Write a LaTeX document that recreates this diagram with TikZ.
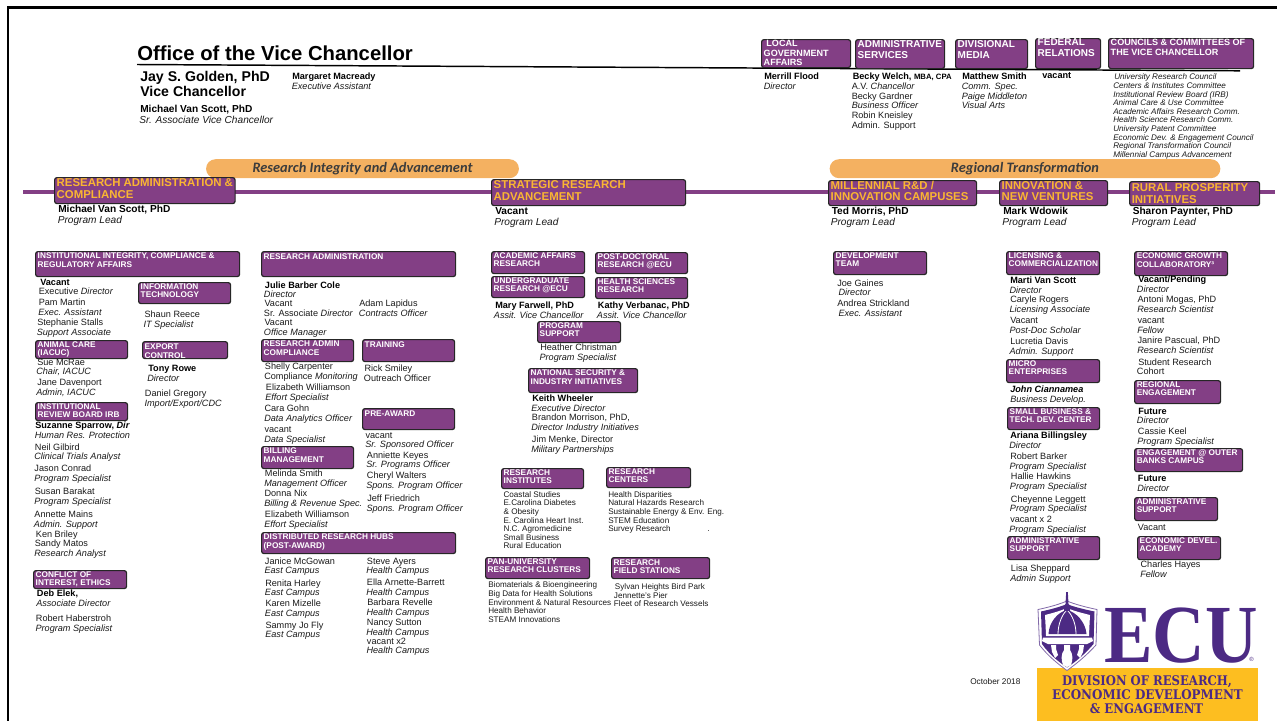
\documentclass[tikz,border=0pt]{standalone}
\usepackage{fontspec}
\setmainfont{Liberation Sans}
\newfontfamily\bannerfont{Carlito}
\newfontfamily\slabfont{DejaVu Serif}
\newfontfamily\ecufont{Liberation Serif}
\definecolor{ecupurple}{RGB}{131,63,133}
\definecolor{logopurple}{RGB}{76,42,132}
\definecolor{bannerorange}{RGB}{244,177,97}
\definecolor{goldtext}{RGB}{250,182,50}
\definecolor{logogold}{RGB}{253,190,32}
\definecolor{bannertext}{RGB}{60,60,60}
\definecolor{bodytext}{RGB}{25,25,25}
\newcounter{tn}
\tikzset{
  x=0.75pt,y=-0.75pt,
  lbl/.style={inner sep=0pt,anchor=base west,text=bodytext,font=\fontsize{6.85}{7.3}\selectfont},
  boxst/.style={draw=black!85,fill=ecupurple,line width=0.9pt,rounded corners=1.8pt,inner ysep=0pt,inner xsep=1.6pt,text=white},
  hdrsmall/.style={font=\bfseries\fontsize{6.2}{6.5}\selectfont},
  hdrtop/.style={font=\bfseries\fontsize{7.5}{8}\selectfont},
  hdrtopb/.style={font=\bfseries\fontsize{6.8}{7.2}\selectfont},
  hdrgold/.style={font=\bfseries\fontsize{8.55}{8.8}\selectfont,text=goldtext},
  bannerst/.style={fill=bannerorange,rounded corners=7pt,inner sep=0pt,text=bannertext,font=\bannerfont\bfseries\itshape\fontsize{10.8}{11}\selectfont},
}
% boxes: name x1 y1 x2 y2 style strutheight text
\newcommand\bx[8]{\pgfmathsetlengthmacro\bw{(#4-#2)*0.75pt-3.2pt}\pgfmathsetlengthmacro\bh{(#5-#3)*0.75pt}%
  \node[boxst,#6,anchor=north west,minimum width={(#4-#2)*0.75pt}] (#1) at (#2,#3) {\parbox[b][\bh][t]{\bw}{\raggedright\rule{0pt}{#7}#8}};}
\newcommand\nR[3]{\stepcounter{tn}\node[lbl] (t\thetn) at ({#1},{#2+3.6}) {#3};}
\newcommand\nI[3]{\stepcounter{tn}\node[lbl,font=\itshape\fontsize{6.85}{7.3}\selectfont] (t\thetn) at ({#1},{#2+3.6}) {#3};}
\newcommand\nB[3]{\stepcounter{tn}\node[lbl,text=black,font=\bfseries\fontsize{6.85}{7.3}\selectfont] (t\thetn) at ({#1},{#2+3.6}) {#3};}
\newcommand\nS[3]{\stepcounter{tn}\node[lbl,font=\fontsize{6.1}{7}\selectfont] (t\thetn) at ({#1},{#2+3.4}) {#3};}
\newcommand\nC[3]{\stepcounter{tn}\node[lbl,font=\itshape\fontsize{6.1}{7}\selectfont] (t\thetn) at ({#1},{#2+3.4}) {#3};}
\newcommand\nLB[3]{\stepcounter{tn}\node[lbl,text=black,font=\bfseries\fontsize{7.6}{8}\selectfont] (t\thetn) at ({#1},{#2+3.9}) {#3};}
\newcommand\nLI[3]{\stepcounter{tn}\node[lbl,font=\itshape\fontsize{7.6}{8}\selectfont] (t\thetn) at ({#1},{#2+3.9}) {#3};}
\begin{document}
\begin{tikzpicture}
\useasboundingbox (0,0) rectangle (1277,721);
% frame
\coordinate (fa) at (1277,7.5); \coordinate (fb) at (8,7.5); \coordinate (fc) at (8,721);
\draw[black,line width=1.9pt] (fa) -- (fb) -- (fc);
% main lines
\coordinate (pa) at (23,192); \coordinate (pb) at (1275,192);
\draw[ecupurple,line width=3pt] (pa) -- (pb);
\coordinate (la) at (137,64.5); \coordinate (lb) at (1240,70.8);
\draw[black,line width=1.1pt] (la) -- (lb);
% title
\node[inner sep=0pt,anchor=base west,font=\bfseries\fontsize{15.2}{16}\selectfont] (title) at (137,60) {Office of the Vice Chancellor};
\node[inner sep=0pt,anchor=base west,font=\bfseries\fontsize{10.6}{11}\selectfont] (vc1) at (140,81) {Jay S. Golden, PhD};
\node[inner sep=0pt,anchor=base west,font=\bfseries\fontsize{10.6}{11}\selectfont] (vc2) at (140,96) {Vice Chancellor};
\nLB{140}{109}{Michael Van Scott, PhD}
\nLI{139}{120}{Sr. Associate Vice Chancellor}
\nB{292}{76}{Margaret Macready}
\nI{291.5}{86}{Executive Assistant}
% top boxes
\bx{local}{761}{39}{850}{67}{hdrtopb}{5.2pt}{\hspace*{2pt}LOCAL\\GOVERNMENT\\AFFAIRS}
\bx{admin}{855}{39}{944}{68}{hdrtop}{6.0pt}{ADMINISTRATIVE SERVICES}
\bx{media}{955}{39}{1027}{68}{hdrtop}{6.0pt}{DIVISIONAL MEDIA}
\bx{federal}{1035}{38}{1100}{68}{hdrtop}{5.4pt}{FEDERAL RELATIONS}
\bx{councils}{1108}{38}{1253}{68}{hdrtopb}{5.2pt}{COUNCILS \& COMMITTEES OF THE VICE CHANCELLOR}
\nB{764}{76}{Merrill Flood}
\nI{763.5}{86}{Director}
\nB{852.5}{76}{Becky Welch, {\fontsize{5.8}{6}\selectfont MBA, CPA}}
\nR{851.5}{86}{A.V. \itshape Chancellor}
\nR{851.5}{95.5}{Becky Gardner}
\nI{851.5}{105}{Business Officer}
\nR{851.5}{115}{Robin Kneisley}
\nR{851.5}{124.5}{Admin. Support}
\nB{962}{76}{Matthew Smith}
\nI{961.5}{86}{Comm. Spec.}
\nI{961.5}{95.5}{Paige Middleton}
\nI{961.5}{105}{Visual Arts}
\nB{1042}{74.5}{vacant}
\nC{1114}{76.5}{University Research Council}
\nC{1113}{85}{Centers \& Institutes Committee}
\nC{1113}{93.7}{Institutional Review Board (IRB)}
\nC{1113}{102.3}{Animal Care \& Use Committee}
\nC{1113}{110.9}{Academic Affairs Research Comm.}
\nC{1113}{119.5}{Health Science Research Comm.}
\nC{1113}{128.1}{University Patent Committee}
\nC{1113}{136.7}{Economic Dev. \& Engagement Council}
\nC{1113}{145.3}{Regional Transformation Council}
\nC{1113}{153.9}{Millennial Campus Advancement}
% banners
\node[bannerst,minimum width=234.6pt,minimum height=14.2pt,anchor=center] (bn1) at (362.5,168.7) {Research Integrity and Advancement};
\node[bannerst,minimum width=293pt,minimum height=14.2pt,anchor=center] (bn2) at (1025,168.7) {Regional Transformation};
% section boxes
\bx{s1}{54}{177}{234.5}{203}{hdrgold}{6.9pt}{RESEARCH ADMINISTRATION \& COMPLIANCE}
\bx{s2}{491}{179}{685}{205}{hdrgold}{6.9pt}{STRATEGIC RESEARCH ADVANCEMENT}
\bx{s3}{828}{180}{976}{205}{hdrgold}{6.4pt}{MILLENNIAL R\&D / INNOVATION CAMPUSES}
\bx{s4}{999}{180}{1107}{205}{hdrgold}{6.4pt}{INNOVATION \& NEW VENTURES}
\bx{s5}{1129}{181}{1259}{205}{hdrgold}{7.4pt}{RURAL PROSPERITY INITIATIVES}
\nLB{58}{209}{Michael Van Scott, PhD}
\nLI{57.5}{219.5}{Program Lead}
\nLB{495}{211}{Vacant}
\nLI{494}{221.5}{Program Lead}
\nLB{831.5}{211}{Ted Morris, PhD}
\nLI{830.5}{221.5}{Program Lead}
\nLB{1003}{211}{Mark Wdowik}
\nLI{1002}{221.5}{Program Lead}
\nLB{1132.5}{211}{Sharon Paynter, PhD}
\nLI{1131.5}{221.5}{Program Lead}
% column 1
\bx{a1}{35}{251}{239}{276}{hdrsmall}{5.3pt}{INSTITUTIONAL INTEGRITY, COMPLIANCE \& REGULATORY AFFAIRS}
\nB{40}{281.7}{Vacant}
\nR{38.5}{291}{Executive \itshape Director}
\nR{38.5}{302}{Pam Martin}
\nI{38}{311.7}{Exec. Assistant}
\nR{37}{322}{Stephanie Stalls}
\nI{36.5}{332}{Support Associate}
\bx{a2}{35}{340}{127}{358}{hdrsmall}{4.8pt}{ANIMAL CARE\\(IACUC)}
\nR{37}{361.7}{Sue McRae}
\nI{36}{371.3}{Chair, IACUC}
\nR{37}{382}{Jane Davenport}
\nI{36}{391.7}{Admin, IACUC}
\bx{a3}{35}{402}{127}{420}{hdrsmall}{4.8pt}{INSTITUTIONAL\\REVIEW BOARD IRB}
\nB{35}{425.3}{Suzanne Sparrow, \itshape Dir}
\nI{34.5}{435}{Human Res. Protection}
\nR{34.7}{446.7}{Neil Gilbird}
\nI{34}{456.3}{Clinical Trials Analyst}
\nR{34.2}{468.3}{Jason Conrad}
\nI{34}{478}{Program Specialist}
\nR{34.5}{491.3}{Susan Barakat}
\nI{34}{501}{Program Specialist}
\nR{34.2}{514.3}{Annette Mains}
\nI{33.7}{524}{Admin. Support}
\nR{35.7}{533.7}{Ken Briley}
\nR{34.5}{543.3}{Sandy Matos}
\nI{34}{553}{Research Analyst}
\bx{a4}{33}{570}{126}{588}{hdrsmall}{4.8pt}{CONFLICT OF\\INTEREST, ETHICS}
\nB{36.7}{593.3}{Deb Elek,}
\nI{36}{603}{Associate Director}
\nR{35.7}{618.3}{Robert Haberstroh}
\nI{35.3}{628}{Program Specialist}
\bx{a5}{138}{282}{230}{303}{hdrsmall}{5.0pt}{INFORMATION\\TECHNOLOGY}
\nR{144.3}{314}{Shaun Reece}
\nI{143.3}{323.7}{IT Specialist}
\bx{a6}{142}{341}{227}{358}{hdrsmall}{6pt}{EXPORT\\CONTROL}
\nB{148}{368}{Tony Rowe}
\nI{147}{377.7}{Director}
\nR{144.7}{393}{Daniel Gregory}
\nI{144.3}{402.7}{Import/Export/CDC}
% column 2
\bx{b1}{261}{251}{455}{276}{hdrsmall}{6.2pt}{RESEARCH ADMINISTRATION}
\nB{264.7}{284.7}{Julie Barber Cole}
\nI{263.7}{294.3}{Director}
\nR{264.3}{303.3}{Vacant}
\nR{263.7}{313}{Sr. Associate \itshape Director}
\nR{264.3}{322.3}{Vacant}
\nI{263.7}{332}{Office Manager}
\nR{359}{303.3}{Adam Lapidus}
\nI{358.7}{313}{Contracts Officer}
\bx{b2}{261}{339}{353}{361}{hdrsmall}{5.3pt}{RESEARCH ADMIN\\COMPLIANCE}
\bx{b3}{362}{339}{454}{361}{hdrsmall}{6.2pt}{TRAINING}
\nR{264.7}{366}{Shelly Carpenter}
\nR{264}{375.7}{Compliance \itshape Monitoring}
\nR{265.7}{387.3}{Elizabeth Williamson}
\nI{265}{397}{Effort Specialist}
\nR{264.3}{408}{Cara Gohn}
\nI{264}{417.7}{Data Analytics Officer}
\nR{264.3}{429}{vacant}
\nI{264}{438.7}{Data Specialist}
\nR{364.3}{368}{Rick Smiley}
\nR{363.7}{377.7}{Outreach Officer}
\bx{b4}{362}{408}{454}{429}{hdrsmall}{5.6pt}{PRE-AWARD}
\nR{365.3}{434.7}{vacant}
\nI{365}{444.3}{Sr. Sponsored Officer}
\nR{366.7}{454.7}{Anniette Keyes}
\nI{366}{464.3}{Sr. Programs Officer}
\nR{366.7}{475}{Cheryl Walters}
\nI{366}{484.7}{Spons. Program Officer}
\nR{367}{498}{Jeff Friedrich}
\nI{366.3}{507.7}{Spons. Program Officer}
\bx{b5}{261}{446}{353}{468}{hdrsmall}{5.2pt}{BILLING\\MANAGEMENT}
\nR{264.7}{473.3}{Melinda Smith}
\nI{264}{483}{Management Officer}
\nR{264.3}{493.3}{Donna Nix}
\nI{264}{503}{Billing \& Revenue Spec.}
\nR{264.7}{514.3}{Elizabeth Williamson}
\nI{264}{524}{Effort Specialist}
\bx{b6}{261}{532}{455}{553}{hdrsmall}{5.2pt}{DISTRIBUTED RESEARCH HUBS\\(POST-AWARD)}
\nR{264.7}{560.7}{Janice McGowan}
\nI{264.3}{570.3}{East Campus}
\nR{265}{582.7}{Renita Harley}
\nI{264.7}{592.3}{East Campus}
\nR{265.3}{603}{Karen Mizelle}
\nI{264.7}{612.7}{East Campus}
\nR{265.3}{624.7}{Sammy Jo Fly}
\nI{265}{634.3}{East Campus}
\nR{366.7}{560.7}{Steve Ayers}
\nI{366}{570.3}{Health Campus}
\nR{366.7}{582}{Ella Arnette-Barrett}
\nI{366}{591.7}{Health Campus}
\nR{367}{602.3}{Barbara Revelle}
\nI{366.3}{612}{Health Campus}
\nR{366.7}{622}{Nancy Sutton}
\nI{366}{631.7}{Health Campus}
\nR{366.7}{640.7}{vacant x2}
\nI{366.3}{650.3}{Health Campus}
% column 3
\bx{c1}{491}{251}{584}{273}{hdrsmall}{4.8pt}{ACADEMIC AFFAIRS\\RESEARCH}
\bx{c2}{595}{252}{687}{273}{hdrsmall}{4.8pt}{POST-DOCTORAL\\RESEARCH @ECU}
\bx{c3}{491}{276}{584}{297}{hdrsmall}{4.8pt}{UNDERGRADUATE\\RESEARCH @ECU}
\bx{c4}{595}{277}{687}{298}{hdrsmall}{4.8pt}{HEALTH SCIENCES\\RESEARCH}
\nB{495}{305}{Mary Farwell, PhD}
\nI{493.7}{314.7}{Assit. Vice Chancellor}
\nB{597.7}{305}{Kathy Verbanac, PhD}
\nI{596.7}{314.7}{Assit. Vice Chancellor}
\bx{c5}{537}{321}{620}{342}{hdrsmall}{4.8pt}{PROGRAM\\SUPPORT}
\nR{540}{347}{Heather Christman}
\nI{539.3}{356.7}{Program Specialist}
\bx{c6}{528}{368}{637}{392}{hdrsmall}{5.3pt}{NATIONAL SECURITY \&\\INDUSTRY INITIATIVES}
\nB{532}{398.3}{Keith Wheeler}
\nI{531}{408}{Executive Director}
\nR{531.7}{417.3}{Brandon Morrison, PhD,}
\nI{531}{427}{Director Industry Initiatives}
\nR{531.7}{439}{Jim Menke, Director}
\nI{531}{448.7}{Military Partnerships}
\bx{c7}{501}{468}{583}{488}{hdrsmall}{5pt}{RESEARCH\\INSTITUTES}
\bx{c8}{606}{467}{690}{487}{hdrsmall}{5pt}{RESEARCH\\CENTERS}
\nS{503.3}{493.7}{Coastal Studies}
\nS{503.3}{502.3}{E.Carolina Diabetes}
\nS{503.3}{511}{\& Obesity}
\nS{503.3}{519.7}{E. Carolina Heart Inst.}
\nS{503.3}{528.3}{N.C. Agromedicine}
\nS{503.3}{537}{Small Business}
\nS{503.3}{545.3}{Rural Education}
\nS{608}{493.7}{Health Disparities}
\nS{608}{502.3}{Natural Hazards Research}
\nS{608}{511}{Sustainable Energy \& Env. Eng.}
\nS{608}{519.7}{STEM Education}
\nS{608}{528.3}{Survey Research}
\nS{707}{528.3}{.}
\bx{c9}{485}{557}{589}{578}{hdrsmall}{5pt}{PAN-UNIVERSITY\\RESEARCH CLUSTERS}
\bx{c10}{611}{557}{709}{578}{hdrsmall}{5.6pt}{RESEARCH\\FIELD STATIONS}
\nS{488}{584.3}{Biomaterials \& Bioengineering}
\nS{488}{593}{Big Data for Health Solutions}
\nS{488}{601.7}{Environment \& Natural Resources}
\nS{488}{610}{Health Behavior}
\nS{488}{618.7}{STEAM Innovations}
\nS{614.7}{586.3}{Sylvan Heights Bird Park}
\nS{613.7}{595}{Jennette's Pier}
\nS{613.7}{603.3}{Fleet of Research Vessels}
% column 4
\bx{d1}{833}{251}{926}{274}{hdrsmall}{4.8pt}{DEVELOPMENT\\TEAM}
\nR{837}{282.7}{Joe Gaines}
\nI{838.3}{292.3}{Director}
\nR{837}{303.3}{Andrea Strickland}
\nI{838.3}{313}{Exec. Assistant}
% column 5
\bx{e1}{1006}{251}{1099}{274}{hdrsmall}{4.8pt}{LICENSING \&\\COMMERCIALIZATION}
\nB{1010}{280}{Marti Van Scott}
\nI{1009.3}{289.7}{Director}
\nR{1010}{299}{Caryle Rogers}
\nI{1009.3}{308.7}{Licensing Associate}
\nR{1010}{320}{Vacant}
\nI{1009.3}{329.7}{Post-Doc Scholar}
\nR{1010}{341}{Lucretia Davis}
\nI{1009.3}{350.7}{Admin. Support}
\bx{e2}{1006}{359}{1099}{382}{hdrsmall}{4.8pt}{MICRO\\ENTERPRISES}
\nB{1010}{389.3}{\itshape John Ciannamea}
\nI{1010}{399}{Business Develop.}
\bx{e3}{1007}{407}{1099}{429}{hdrsmall}{4.8pt}{SMALL BUSINESS \&\\TECH. DEV. CENTER}
\nB{1010}{435}{Ariana Billingsley}
\nI{1009}{444.7}{Director}
\nR{1010}{456.3}{Robert Barker}
\nI{1009.3}{466}{Program Specialist}
\nR{1010.7}{476.3}{Hallie Hawkins}
\nI{1009.7}{486}{Program Specialist}
\nR{1010.7}{498.7}{Cheyenne Leggett}
\nI{1009.7}{508.3}{Program Specialist}
\nR{1010}{519}{vacant x 2}
\nI{1009}{529}{Program Specialist}
\bx{e4}{1007}{536}{1099}{559}{hdrsmall}{4.8pt}{ADMINISTRATIVE\\SUPPORT}
\nR{1010.7}{568.3}{Lisa Sheppard}
\nI{1010}{578}{Admin Support}
% column 6
\bx{f1}{1134}{251}{1227}{275}{hdrsmall}{5.3pt}{ECONOMIC GROWTH\\COLLABORATORY³}
\nB{1138}{279.3}{Vacant/Pending}
\nI{1136.7}{289}{Director}
\nR{1137.3}{299}{Antoni Mogas, PhD}
\nI{1137}{308.7}{Research Scientist}
\nR{1137.3}{320}{vacant}
\nI{1137}{329.7}{Fellow}
\nR{1137.3}{340}{Janire Pascual, PhD}
\nI{1137}{349.7}{Research Scientist}
\nR{1138}{361.7}{Student Research}
\nR{1136.7}{371}{Cohort}
\bx{f2}{1134}{380}{1220}{403}{hdrsmall}{4.8pt}{REGIONAL\\ENGAGEMENT}
\nB{1138}{410.7}{Future}
\nI{1136.7}{420.3}{Director}
\nR{1137.7}{431}{Cassie Keel}
\nI{1137}{441}{Program Specialist}
\bx{f3}{1134}{448}{1242}{471}{hdrsmall}{4.8pt}{ENGAGEMENT @ OUTER\\BANKS CAMPUS}
\nB{1137.7}{478}{Future}
\nI{1137}{487.7}{Director}
\bx{f4}{1134}{497}{1217}{520}{hdrsmall}{4.8pt}{ADMINISTRATIVE\\SUPPORT}
\nR{1137.7}{526.7}{Vacant}
\bx{f5}{1137}{536}{1220}{559}{hdrsmall}{4.8pt}{ECONOMIC DEVEL.\\ACADEMY}
\nR{1140.3}{564.3}{Charles Hayes}
\nI{1140}{574}{Fellow}
\node[lbl,font=\fontsize{6.2}{7}\selectfont] (date) at (970,684.5) {October 2018};
% logo
\fill[logogold] (1037,668) rectangle (1258,721);
\node[inner sep=0pt,anchor=base,text=logopurple] (logo1) at (1147,685.5) {\resizebox{127.5pt}{7.4pt}{\slabfont\bfseries DIVISION OF RESEARCH,}};
\node[inner sep=0pt,anchor=base,text=logopurple] (logo2) at (1147.5,699.5) {\resizebox{143pt}{7.4pt}{\slabfont\bfseries ECONOMIC DEVELOPMENT}};
\node[inner sep=0pt,anchor=base,text=logopurple] (logo3) at (1146.5,713.5) {\resizebox{85pt}{7.4pt}{\slabfont\bfseries \& ENGAGEMENT}};
\node[inner sep=0pt,anchor=base west,text=logopurple] (ecu) at (1104,662) {\resizebox{115pt}{41pt}{\ecufont\bfseries ECU}};
\node[inner sep=0pt,anchor=base west,text=logopurple,font=\fontsize{4.5}{5}\selectfont] (reg) at (1249,661) {®};
% shield
\draw[logopurple!70,line width=0.6pt,fill=white] (1038,609.5) .. controls (1050,607) and (1060,604) .. (1067,601) .. controls (1074,604) and (1085,607) .. (1097,609.5) -- (1096,645) .. controls (1086,656) and (1076,664) .. (1067,670.5) .. controls (1058,664) and (1048,656) .. (1039.5,645) -- cycle;
\fill[logopurple] (1041,611.5) .. controls (1050,609.5) and (1060,607) .. (1067,604) .. controls (1074,607) and (1085,609.5) .. (1094.5,611.5) -- (1093.5,644) .. controls (1085,654) and (1076,661.5) .. (1067,667.5) .. controls (1058,661.5) and (1049,654) .. (1042,644) -- cycle;
\fill[white] (1046,636) .. controls (1045.5,622) and (1045,617) .. (1045,615) .. controls (1053,613) and (1060,611) .. (1067,608) .. controls (1074,611) and (1082,613) .. (1090,615) .. controls (1090,617) and (1089.5,622) .. (1089,636) -- cycle;
\fill[logopurple] (1048.5,634) .. controls (1049,622) and (1058,612) .. (1067,610) .. controls (1076,612) and (1085.5,622) .. (1086.5,634) -- cycle;
\draw[white,line width=0.6pt] (1058,634) .. controls (1058,624) and (1062,615) .. (1066,611);
\draw[white,line width=0.6pt] (1076,634) .. controls (1076,624) and (1072,615) .. (1068,611);
\fill[logopurple] (1066.2,592) -- (1067.8,592) -- (1068.5,604) -- (1070,606) -- (1070,611) -- (1064,611) -- (1064,606) -- (1065.5,604) -- cycle;
\fill[white] (1043,637.5) -- (1092,637.5) -- (1093,641) -- (1087,644) -- (1048,644) -- (1042,641) -- cycle;
\fill[white] (1064,645) -- (1070,645) -- (1070,650) .. controls (1073,654) and (1073,660) .. (1071,665) -- (1067,667) -- (1063,665) .. controls (1061,660) and (1061,654) .. (1064,650) -- cycle;
\fill[white] (1051,645) -- (1056,645) -- (1056,649) -- (1058,655) -- (1055,658) -- (1052,652) -- cycle;
\fill[white] (1079,645) -- (1084,645) -- (1083,652) -- (1080,658) -- (1077,655) -- (1079,649) -- cycle;
\end{tikzpicture}
\end{document}
